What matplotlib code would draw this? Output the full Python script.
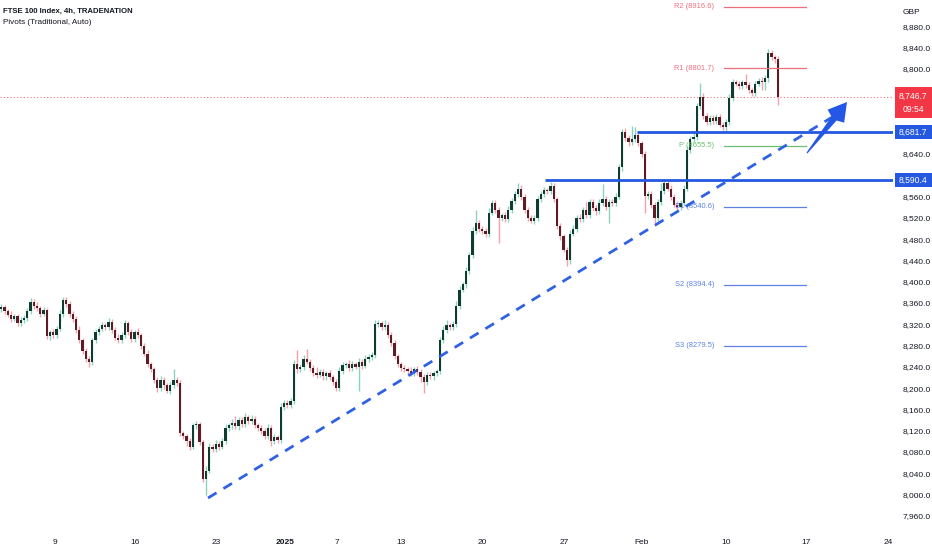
import matplotlib
matplotlib.use("Agg")
import matplotlib.pyplot as plt
from matplotlib.patches import Rectangle, Polygon
import numpy as np

FONT = ['Liberation Sans Narrow', 'Liberation Sans', 'DejaVu Sans']
plt.rcParams['font.family'] = FONT

# ---------------- data ----------------
first_open = 8348
closes = [
    8352, 8345, 8338, 8330, 8335, 8322, 8328, 8332, 8345, 8362,
    8355, 8350, 8340, 8346, 8298, 8305, 8300, 8312, 8340, 8365,
    8358, 8340, 8330, 8310, 8290, 8270, 8255, 8250, 8290, 8305,
    8312, 8318, 8315, 8325, 8310, 8295, 8290, 8300, 8322, 8305,
    8292, 8305, 8300, 8280, 8265, 8245, 8235, 8215, 8200, 8215,
    8205, 8195, 8205, 8215, 8210, 8115, 8110, 8100, 8090, 8130,
    8132, 8098, 8030, 8045, 8090, 8085, 8095, 8090, 8100, 8125,
    8130, 8135, 8128, 8140, 8132, 8145, 8138, 8142, 8130, 8125,
    8120, 8110, 8125, 8100, 8108, 8102, 8165, 8172, 8168, 8175,
    8245, 8235, 8240, 8255, 8250, 8238, 8228, 8225, 8230, 8222,
    8228, 8220, 8212, 8200, 8232, 8243, 8245, 8238, 8245, 8240,
    8250, 8242, 8255, 8258, 8262, 8320, 8322, 8315, 8318, 8300,
    8285, 8260, 8245, 8238, 8235, 8232, 8228, 8235, 8230, 8220,
    8212, 8225, 8222, 8228, 8232, 8290, 8310, 8318, 8315, 8320,
    8355, 8385, 8395, 8420, 8450, 8495, 8510, 8500, 8495, 8490,
    8530, 8548, 8535, 8520, 8525, 8518, 8535, 8552, 8565, 8575,
    8560, 8535, 8520, 8515, 8520, 8555, 8565, 8572, 8570, 8580,
    8555, 8505, 8485, 8460, 8440, 8490, 8500, 8520, 8518, 8535,
    8525, 8550, 8538, 8532, 8548, 8555, 8540, 8550, 8548, 8560,
    8615, 8682, 8670, 8662, 8668, 8675, 8660, 8640, 8562, 8565,
    8545, 8520, 8550, 8570, 8585, 8575, 8560, 8545, 8540, 8548,
    8575, 8648, 8668, 8672, 8730, 8748, 8712, 8700, 8708, 8702,
    8710, 8695, 8690, 8700, 8745, 8775, 8772, 8768, 8775, 8770,
    8760, 8755, 8772, 8778, 8775, 8782, 8830, 8822, 8818, 8746.7,
]
upper_wick = [
    6, 5, 4, 6, 5, 4, 6, 5, 6, 7,
    5, 6, 4, 6, 5, 4, 6, 5, 6, 7,
    6, 5, 4, 5, 6, 4, 5, 6, 5, 6,
    5, 6, 4, 7, 5, 4, 6, 5, 6, 5,
    6, 5, 8, 4, 5, 6, 4, 5, 6, 8,
    5, 4, 6, 20, 5, 6, 5, 4, 6, 5,
    6, 5, 4, 8, 6, 5, 7, 5, 6, 8,
    5, 6, 12, 5, 6, 8, 5, 7, 6, 5,
    6, 5, 8, 5, 6, 4, 7, 6, 5, 6,
    8, 27, 6, 8, 18, 5, 6, 12, 5, 6,
    5, 6, 4, 5, 8, 6, 5, 7, 6, 5,
    6, 5, 7, 6, 5, 8, 6, 5, 10, 6,
    5, 6, 5, 4, 6, 5, 7, 5, 6, 5,
    6, 5, 6, 5, 4, 6, 7, 10, 5, 6,
    8, 6, 5, 7, 6, 8, 25, 6, 5, 6,
    8, 6, 5, 6, 5, 6, 7, 6, 6, 10,
    6, 5, 6, 5, 6, 7, 5, 6, 5, 8,
    6, 5, 6, 5, 6, 8, 6, 5, 7, 6,
    15, 6, 5, 6, 8, 28, 6, 5, 6, 7,
    6, 5, 6, 5, 25, 15, 6, 5, 6, 5,
    6, 5, 6, 15, 6, 5, 6, 5, 6, 5,
    6, 7, 6, 8, 6, 25, 6, 5, 6, 5,
    6, 5, 6, 5, 7, 6, 5, 6, 5, 15,
    6, 5, 6, 5, 6, 7, 8, 6, 5, 6,
]
lower_wick = [
    5, 6, 5, 6, 4, 6, 5, 6, 5, 6,
    6, 5, 6, 5, 6, 7, 5, 6, 5, 6,
    5, 6, 5, 6, 5, 6, 5, 10, 6, 5,
    6, 5, 6, 5, 6, 5, 6, 5, 6, 5,
    5, 6, 5, 6, 5, 6, 5, 6, 8, 5,
    6, 5, 6, 5, 6, 5, 6, 8, 6, 5,
    6, 5, 6, 30, 5, 6, 5, 6, 5, 6,
    5, 6, 5, 6, 5, 6, 5, 6, 5, 6,
    6, 5, 6, 8, 5, 6, 5, 6, 5, 6,
    5, 6, 5, 6, 5, 6, 5, 6, 5, 6,
    6, 5, 6, 5, 6, 5, 6, 5, 6, 5,
    45, 6, 5, 6, 5, 6, 5, 6, 5, 6,
    5, 6, 5, 6, 5, 6, 5, 6, 5, 8,
    22, 6, 5, 6, 5, 6, 5, 6, 5, 6,
    5, 6, 5, 6, 5, 6, 5, 6, 5, 6,
    6, 5, 6, 47, 5, 6, 5, 6, 5, 6,
    6, 5, 6, 5, 6, 5, 6, 5, 6, 5,
    6, 5, 6, 5, 10, 6, 5, 6, 5, 6,
    5, 6, 5, 6, 5, 6, 5, 30, 6, 5,
    5, 6, 5, 6, 5, 6, 5, 6, 32, 6,
    6, 15, 6, 5, 6, 5, 6, 5, 6, 5,
    6, 5, 6, 5, 6, 5, 6, 5, 6, 5,
    6, 5, 5, 6, 5, 6, 5, 6, 5, 6,
    6, 5, 6, 5, 15, 15, 6, 5, 6, 15,
]
time_labels = ['9', '16', '23', '2025', '7', '13', '20', '27', 'Feb', '10', '17', '24']
pivot_names = ['R2', 'R1', 'P', 'S1', 'S2', 'S3']
pivot_values = [8916.6, 8801.7, 8655.5, 8540.6, 8394.4, 8279.5]
levels = [8681.7, 8590.4]
last_price = 8746.7
countdown = '09:54'

# ---------------- geometry helpers ----------------
W, H = 932, 550
AX_RIGHT = 893
AX_BOTTOM = 528
BAR_PX = 3.25
BAR0_PX = 1.25
PX_PER_PT = 0.532
REF_PRICE, REF_Y = 8801.7, 68


def px_to_x(px):
    return (px - BAR0_PX) / BAR_PX


def py_to_p(py):
    return REF_PRICE - (py - REF_Y) / PX_PER_PT


def p_to_py(p):
    return REF_Y + (REF_PRICE - p) * PX_PER_PT


fig = plt.figure(figsize=(W / 100, H / 100), dpi=100)
fig.patch.set_facecolor('white')
ax = fig.add_axes([0, 1 - AX_BOTTOM / H, AX_RIGHT / W, AX_BOTTOM / H])
ax.set_facecolor('white')
ax.set_xlim(px_to_x(0), px_to_x(AX_RIGHT))
ax.set_ylim(py_to_p(AX_BOTTOM), py_to_p(0))
for s in ax.spines.values():
    s.set_visible(False)

# ---------------- candles ----------------
n = len(closes)
xs = np.arange(n)
c = np.array(closes, dtype=float)
o = np.concatenate([[first_open], c[:-1]])
hi = np.maximum(o, c) + np.array(upper_wick)
lo = np.minimum(o, c) - np.array(lower_wick)
up = c >= o

UP_BODY, UP_WICK = '#0f3b31', '#8ed3c1'
DN_BODY, DN_WICK = '#5e1c26', '#f2a3ab'

ax.vlines(xs[up], lo[up], hi[up], color=UP_WICK, lw=1.0, zorder=2)
ax.vlines(xs[~up], lo[~up], hi[~up], color=DN_WICK, lw=1.0, zorder=2)
body_bot = np.minimum(o, c)
body_h = np.maximum(np.abs(c - o), 1.2)
ax.bar(xs[up], body_h[up], bottom=body_bot[up], width=0.7, color=UP_BODY, lw=0, zorder=3)
ax.bar(xs[~up], body_h[~up], bottom=body_bot[~up], width=0.7, color=DN_BODY, lw=0, zorder=3)

# ---------------- current price dotted line ----------------
ax.axhline(last_price, color='#f23645', lw=0.8, ls=(0, (1, 2)), alpha=0.7, zorder=1)

# ---------------- pivot lines ----------------
piv_colors = {'R': '#ef6f7c', 'P': '#6cbf6f', 'S': '#5b82e6'}
px0, px1 = px_to_x(724), px_to_x(806)
for name, val in zip(pivot_names, pivot_values):
    col = piv_colors[name[0]]
    ax.plot([px0, px1], [val, val], color=col, lw=0.9, zorder=4)
    ax.text(px_to_x(714), val, f'{name} ({val:.1f})', color=col, fontsize=5.4,
            ha='right', va='center', zorder=4)

# ---------------- horizontal support levels ----------------
BLUE = '#2558e0'
ax.plot([px_to_x(637), px_to_x(AX_RIGHT + 2)], [levels[0]] * 2, color=BLUE, lw=2, zorder=5,
        solid_capstyle='butt')
ax.plot([px_to_x(545), px_to_x(AX_RIGHT + 2)], [levels[1]] * 2, color=BLUE, lw=2, zorder=5,
        solid_capstyle='butt')

# ---------------- dashed trendline ----------------
ax.plot([px_to_x(208), px_to_x(834)], [py_to_p(498), py_to_p(116)], color='#2f62e3',
        lw=2, dashes=(3.6, 2.9), zorder=5, solid_capstyle='butt', dash_capstyle='butt')

# ---------------- arrow ----------------
tail = np.array([807.0, 153.0])
tip = np.array([847.0, 102.0])
u = (tip - tail) / np.linalg.norm(tip - tail)
nrm = np.array([-u[1], u[0]])
base = tip - 21 * u
pts_px = [tail - 0.6 * nrm, base - 3.2 * nrm, base - 10.5 * nrm + 3 * u, tip,
          base + 10.5 * nrm + 3 * u, base + 3.2 * nrm, tail + 0.6 * nrm]
pts = [(px_to_x(p[0]), py_to_p(p[1])) for p in pts_px]
ax.add_patch(Polygon(pts, closed=True, color='#2457e6', lw=0, zorder=6))

# ---------------- axes ticks ----------------
yt = np.arange(7960, 8881, 40)
# labels hidden behind the price boxes on the axis
hidden = {8760, 8720, 8680, 8600}
ax.yaxis.tick_right()
ax.set_yticks(yt)
ax.set_yticklabels(['' if v in hidden else f'{v:,.1f}' for v in yt])
ax.tick_params(axis='y', length=0, pad=7, labelsize=6.0, labelcolor='#131722')

tick_px = [55, 135, 216, 285, 337, 401, 482, 564, 642, 726, 806, 888]
ax.set_xticks([px_to_x(p) for p in tick_px])
ax.set_xticklabels(time_labels)
ax.tick_params(axis='x', length=0, pad=8, labelsize=6.0, labelcolor='#131722')
for lbl in ax.get_xticklabels():
    if lbl.get_text() == '2025':
        lbl.set_fontweight('bold')

# ---------------- header text ----------------
fig.text(3 / W, 1 - 11 / H, 'FTSE 100 Index, 4h, TRADENATION', fontsize=5.6,
         fontweight='bold', color='#131722', va='center', ha='left')
fig.text(3 / W, 1 - 23 / H, 'Pivots (Traditional, Auto)', fontsize=5.9,
         color='#131722', va='center', ha='left')
fig.text(903 / W, 1 - 12 / H, 'GBP', fontsize=6.0, color='#131722', va='center', ha='left')


# ---------------- price axis boxes ----------------
def axis_box(y_top, y_bot, color):
    fig.patches.append(Rectangle((895 / W, 1 - y_bot / H), (W - 895) / W, (y_bot - y_top) / H,
                                 transform=fig.transFigure, facecolor=color, lw=0, zorder=5))


axis_box(87, 118, '#f23645')
fig.text(913 / W, 1 - 96 / H, f'{last_price:,.1f}', fontsize=6.2, color='white',
         ha='center', va='center', zorder=6)
fig.text(913 / W, 1 - 109 / H, countdown, fontsize=6.2, color='white',
         ha='center', va='center', zorder=6)
for lv in levels:
    yy = p_to_py(lv)
    axis_box(yy - 7, yy + 7, BLUE)
    fig.text(913 / W, 1 - yy / H, f'{lv:,.1f}', fontsize=6.2, color='white',
             ha='center', va='center', zorder=6)

fig.savefig('out.png', dpi=100, facecolor='white')
